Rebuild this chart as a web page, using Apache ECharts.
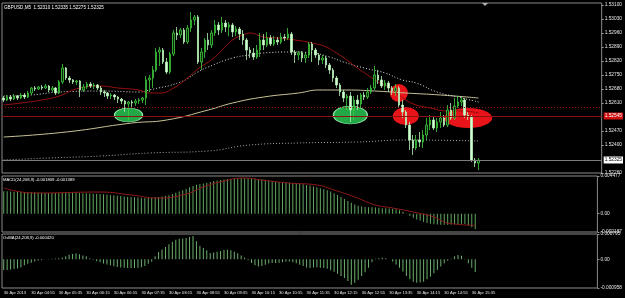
<!DOCTYPE html>
<html lang="en" style="height: 100%">
<head>
  <meta charset="utf-8">
</head>
<body style="height: 100%; margin: 0; background-color:#000;">
  <div id="container" style="height: 100%"></div>

<script src="https://cdn.jsdelivr.net/npm/echarts@6/dist/echarts.min.js"></script>

<script>
  var dom = document.getElementById('container');
  var myChart = echarts.init(dom);

  // GBPUSD M5, 30 Apr 2013, 04:15 .. 15:40
  var opens = [
    1.52635,1.52625,1.52640,1.52630,1.52645,1.52635,1.52650,1.52640,1.52660,1.52685,
    1.52680,1.52690,1.52685,1.52695,1.52675,1.52685,1.52660,1.52715,1.52785,1.52735,
    1.52725,1.52715,1.52720,1.52675,1.52690,1.52705,1.52695,1.52700,1.52685,1.52665,
    1.52660,1.52645,1.52650,1.52640,1.52630,1.52620,1.52605,1.52615,1.52610,1.52620,
    1.52625,1.52635,1.52725,1.52735,1.52775,1.52865,1.52875,1.52815,1.52765,1.52855,
    1.52960,1.52950,1.52975,1.52915,1.52985,1.53025,1.53040,1.52815,1.52865,1.52925,
    1.52900,1.52960,1.53000,1.52975,1.53010,1.52990,1.53000,1.52965,1.52980,1.52955,
    1.52925,1.52875,1.52860,1.52840,1.52875,1.52925,1.52900,1.52935,1.52905,1.52925,
    1.52915,1.52940,1.52935,1.52955,1.52865,1.52850,1.52860,1.52835,1.52850,1.52905,
    1.52875,1.52850,1.52825,1.52835,1.52800,1.52775,1.52735,1.52700,1.52665,1.52635,
    1.52645,1.52575,1.52625,1.52605,1.52650,1.52640,1.52665,1.52685,1.52750,1.52725,
    1.52695,1.52710,1.52685,1.52670,1.52685,1.52600,1.52565,1.52500,1.52425,1.52385,
    1.52425,1.52415,1.52450,1.52500,1.52525,1.52485,1.52515,1.52535,1.52500,1.52575,
    1.52535,1.52595,1.52615,1.52625,1.52550,1.52540,1.52325,1.52310
  ];
  var closes = [
    1.52625,1.52640,1.52630,1.52645,1.52635,1.52650,1.52640,1.52660,1.52685,1.52680,
    1.52690,1.52685,1.52695,1.52675,1.52685,1.52660,1.52715,1.52785,1.52735,1.52725,
    1.52715,1.52720,1.52675,1.52690,1.52705,1.52695,1.52700,1.52685,1.52665,1.52660,
    1.52645,1.52650,1.52640,1.52630,1.52620,1.52605,1.52615,1.52610,1.52620,1.52625,
    1.52635,1.52725,1.52735,1.52775,1.52865,1.52875,1.52815,1.52765,1.52855,1.52960,
    1.52950,1.52975,1.52915,1.52985,1.53025,1.53040,1.52815,1.52865,1.52925,1.52900,
    1.52960,1.53000,1.52975,1.53010,1.52990,1.53000,1.52965,1.52980,1.52955,1.52925,
    1.52875,1.52860,1.52840,1.52875,1.52925,1.52900,1.52935,1.52905,1.52925,1.52915,
    1.52940,1.52935,1.52955,1.52865,1.52850,1.52860,1.52835,1.52850,1.52905,1.52875,
    1.52850,1.52825,1.52835,1.52800,1.52775,1.52735,1.52700,1.52665,1.52635,1.52645,
    1.52575,1.52625,1.52605,1.52650,1.52640,1.52665,1.52685,1.52750,1.52725,1.52695,
    1.52710,1.52685,1.52670,1.52685,1.52600,1.52565,1.52500,1.52425,1.52385,1.52425,
    1.52415,1.52450,1.52500,1.52525,1.52485,1.52515,1.52535,1.52500,1.52575,1.52535,
    1.52595,1.52615,1.52625,1.52550,1.52540,1.52325,1.52310,1.52325
  ];
  var lows = [
    1.52615,1.52620,1.52620,1.52625,1.52625,1.52630,1.52630,1.52635,1.52650,1.52670,
    1.52675,1.52675,1.52680,1.52665,1.52665,1.52650,1.52655,1.52705,1.52725,1.52710,
    1.52705,1.52700,1.52640,1.52665,1.52680,1.52685,1.52680,1.52675,1.52650,1.52640,
    1.52630,1.52630,1.52625,1.52610,1.52605,1.52565,1.52525,1.52590,1.52595,1.52605,
    1.52610,1.52600,1.52665,1.52685,1.52765,1.52795,1.52805,1.52755,1.52755,1.52845,
    1.52925,1.52935,1.52905,1.52905,1.52965,1.53000,1.52805,1.52775,1.52835,1.52875,
    1.52885,1.52945,1.52950,1.52960,1.52965,1.52945,1.52940,1.52945,1.52925,1.52900,
    1.52825,1.52835,1.52825,1.52830,1.52840,1.52875,1.52890,1.52895,1.52895,1.52900,
    1.52905,1.52920,1.52925,1.52850,1.52810,1.52825,1.52815,1.52810,1.52835,1.52815,
    1.52835,1.52800,1.52805,1.52785,1.52755,1.52715,1.52685,1.52645,1.52615,1.52575,
    1.52515,1.52525,1.52575,1.52585,1.52625,1.52630,1.52655,1.52675,1.52705,1.52685,
    1.52675,1.52665,1.52650,1.52645,1.52585,1.52535,1.52485,1.52375,1.52350,1.52375,
    1.52390,1.52385,1.52425,1.52475,1.52475,1.52465,1.52485,1.52490,1.52490,1.52525,
    1.52525,1.52585,1.52595,1.52535,1.52525,1.52315,1.52290,1.52275
  ];
  var highs = [
    1.52645,1.52650,1.52650,1.52655,1.52650,1.52660,1.52660,1.52670,1.52690,1.52695,
    1.52695,1.52700,1.52705,1.52700,1.52695,1.52690,1.52725,1.52805,1.52790,1.52745,
    1.52730,1.52725,1.52725,1.52705,1.52715,1.52715,1.52710,1.52705,1.52695,1.52675,
    1.52665,1.52660,1.52655,1.52645,1.52635,1.52625,1.52620,1.52625,1.52630,1.52635,
    1.52640,1.52745,1.52750,1.52795,1.52885,1.52890,1.52885,1.52835,1.52865,1.52975,
    1.52990,1.52985,1.52985,1.53000,1.53065,1.53050,1.53050,1.52885,1.52935,1.52960,
    1.52975,1.53025,1.53015,1.53040,1.53025,1.53015,1.53010,1.52995,1.52990,1.52975,
    1.52935,1.52890,1.52885,1.52900,1.52960,1.52955,1.52965,1.52950,1.52945,1.52940,
    1.52960,1.52955,1.52985,1.52965,1.52875,1.52870,1.52870,1.52860,1.52915,1.52915,
    1.52885,1.52860,1.52850,1.52845,1.52810,1.52785,1.52745,1.52710,1.52675,1.52655,
    1.52665,1.52645,1.52650,1.52660,1.52665,1.52685,1.52700,1.52795,1.52775,1.52745,
    1.52725,1.52720,1.52695,1.52705,1.52695,1.52625,1.52575,1.52515,1.52450,1.52450,
    1.52465,1.52475,1.52535,1.52550,1.52540,1.52535,1.52565,1.52550,1.52600,1.52610,
    1.52635,1.52645,1.52640,1.52635,1.52565,1.52550,1.52335,1.52335
  ];

  // moving averages, read at sample bars: [bar index, price]
  var maRed = [[0,1.52600],[5,1.52610],[11,1.52625],[16,1.52645],[22,1.52685],[28,1.52695],[33,1.52685],
    [39,1.52675],[42,1.52660],[45,1.52660],[49,1.52685],[53,1.52735],[56,1.52780],[59,1.52815],[61,1.52840],
    [66,1.52925],[69,1.52950],[71,1.52960],[75,1.52940],[79,1.52935],[84,1.52925],[89,1.52910],[93,1.52890],
    [96,1.52860],[99,1.52825],[102,1.52785],[105,1.52750],[108,1.52715],[111,1.52690],[113,1.52665],
    [116,1.52625],[119,1.52600],[123,1.52585],[128,1.52570],[132,1.52570],[137,1.52560]];
  var maWhite = [[0,1.52645],[8,1.52650],[16,1.52665],[28,1.52670],[39,1.52665],[42,1.52675],[51,1.52715],
    [56,1.52765],[59,1.52790],[66,1.52835],[71,1.52850],[75,1.52860],[83,1.52865],[89,1.52860],[94,1.52840],
    [98,1.52815],[104,1.52785],[110,1.52760],[115,1.52725],[119,1.52710],[125,1.52665],[131,1.52640],[137,1.52615]];
  var maTan = [[0,1.52440],[18,1.52465],[37,1.52510],[47,1.52525],[59,1.52575],[66,1.52610],[75,1.52640],
    [85,1.52660],[91,1.52675],[99,1.52675],[107,1.52670],[116,1.52660],[126,1.52650],[137,1.52635]];
  var maGray = [[0,1.52325],[13,1.52335],[28,1.52345],[42,1.52360],[59,1.52370],[71,1.52400],[85,1.52410],
    [102,1.52415],[116,1.52425],[137,1.52420]];

  var levelRed = 1.52545;
  var levelRedDotted = 1.52590;

  // drawn ellipses: [bar index, price]
  var greenMarks = [[36,1.52550],[100,1.52550]];
  var redMarks = [[114,1.52660],[116,1.52545],[134,1.52535]];

  var macd = [
    0.00268,0.00266,0.00264,0.00262,0.00260,0.00258,0.00256,0.00255,0.00255,0.00254,
    0.00252,0.00250,0.00249,0.00247,0.00246,0.00247,0.00250,0.00256,0.00257,0.00256,
    0.00254,0.00252,0.00248,0.00245,0.00243,0.00241,0.00239,0.00237,0.00234,0.00231,
    0.00228,0.00224,0.00220,0.00215,0.00211,0.00206,0.00201,0.00198,0.00195,0.00192,
    0.00189,0.00188,0.00188,0.00190,0.00195,0.00200,0.00205,0.00210,0.00220,0.00235,
    0.00250,0.00265,0.00278,0.00295,0.00315,0.00330,0.00345,0.00352,0.00360,0.00368,
    0.00378,0.00388,0.00396,0.00402,0.00407,0.00412,0.00417,0.00420,0.00423,0.00424,
    0.00423,0.00421,0.00419,0.00417,0.00413,0.00410,0.00405,0.00398,0.00390,0.00383,
    0.00378,0.00374,0.00372,0.00370,0.00366,0.00362,0.00357,0.00350,0.00343,0.00335,
    0.00325,0.00315,0.00304,0.00292,0.00280,0.00265,0.00245,0.00222,0.00198,0.00175,
    0.00152,0.00130,0.00110,0.00095,0.00086,0.00081,0.00078,0.00078,0.00075,0.00070,
    0.00066,0.00064,0.00062,0.00058,0.00052,0.00040,0.00022,0.00002,-0.00025,-0.00048,
    -0.00068,-0.00082,-0.00100,-0.00112,-0.00120,-0.00126,-0.00130,-0.00132,-0.00132,-0.00131,
    -0.00129,-0.00126,-0.00123,-0.00121,-0.00122,-0.00140,-0.00162,-0.00181
  ];
  var macdSignal = [[0,0.00306],[9,0.00246],[28,0.00258],[37,0.00223],[45,0.00187],[53,0.00234],
    [58,0.00318],[64,0.00389],[70,0.00425],[75,0.00401],[83,0.00365],[91,0.00342],[96,0.00282],
    [102,0.00199],[108,0.00104],[113,0.00068],[119,0.00020],[125,-0.00039],[129,-0.00111],[137,-0.00139]];

  var osma = [
    -0.00035,-0.00035,-0.00034,-0.00032,-0.00030,-0.00026,-0.00020,-0.00015,-0.00011,-0.00007,
    -0.00004,-0.00002,0.00000,0.00001,0.00002,0.00003,0.00004,0.00006,0.00010,0.00015,
    0.00018,0.00019,0.00017,0.00013,0.00010,0.00004,-0.00001,-0.00006,-0.00010,-0.00014,
    -0.00017,-0.00020,-0.00023,-0.00025,-0.00027,-0.00028,-0.00029,-0.00029,-0.00029,-0.00028,
    -0.00026,-0.00022,-0.00015,-0.00008,0.00010,0.00024,0.00033,0.00041,0.00050,0.00058,
    0.00065,0.00068,0.00069,0.00071,0.00074,0.00077,0.00060,0.00045,0.00038,0.00030,
    0.00021,0.00023,0.00025,0.00028,0.00031,0.00032,0.00030,0.00025,0.00020,0.00013,
    0.00006,-0.00003,-0.00012,-0.00020,-0.00024,-0.00022,-0.00018,-0.00014,-0.00012,-0.00012,
    -0.00011,-0.00009,-0.00007,-0.00007,-0.00010,-0.00013,-0.00018,-0.00022,-0.00027,-0.00029,
    -0.00027,-0.00026,-0.00028,-0.00029,-0.00031,-0.00036,-0.00041,-0.00048,-0.00055,-0.00062,
    -0.00072,-0.00084,-0.00078,-0.00068,-0.00055,-0.00043,-0.00028,-0.00010,0.00002,0.00004,
    0.00005,0.00004,0.00000,-0.00007,-0.00017,-0.00028,-0.00040,-0.00055,-0.00066,-0.00074,
    -0.00078,-0.00077,-0.00074,-0.00066,-0.00058,-0.00046,-0.00035,-0.00024,-0.00013,-0.00005,
    0.00002,0.00010,0.00014,0.00012,0.00002,-0.00013,-0.00028,-0.00042
  ];

  var timeLabels = ['30 Apr 2013', '30 Apr 04:55', '30 Apr 05:35', '30 Apr 06:15', '30 Apr 06:55',
    '30 Apr 07:35', '30 Apr 08:15', '30 Apr 08:55', '30 Apr 09:35', '30 Apr 10:15', '30 Apr 10:55',
    '30 Apr 11:35', '30 Apr 12:15', '30 Apr 12:55', '30 Apr 13:35', '30 Apr 14:15', '30 Apr 14:55',
    '30 Apr 15:35'];
  var priceTicks = [1.53100, 1.53030, 1.52960, 1.52890, 1.52820, 1.52750, 1.52680, 1.52610, 1.52470, 1.52400, 1.52260];
  var macdTicks = [0.00449, 0, -0.00218];
  var macdTickText = ['0.004477', '0.00', '-0.002187'];
  var osmaTicks = [0.00084, 0, -0.00095];
  var osmaTickText = ['0.000795', '0.00', '-0.000958'];

  var slots = 173; // bars + empty chart shift on the right
  var cats = [];
  for (var i = 0; i < slots; i++) cats.push(i);
  var last = closes.length - 1;

  var FONT = 'Liberation Sans';
  var txt = '#e6e6e6';
  var greenSizes = [[28, 14], [34, 18]];
  var redSizes = [[18, 18], [26, 18], [48, 20]];

  function xAx(idx, showLabels) {
    return {
      type: 'category', gridIndex: idx, data: cats, boundaryGap: true,
      axisLine: { show: false }, axisTick: { show: false }, splitLine: { show: false },
      axisLabel: showLabels ? {
        show: true, color: txt, fontSize: 4.1, fontFamily: FONT, margin: 3, align: 'left',
        interval: function (index) { return index % 8 === 0 && index <= last; },
        formatter: function (v, index) { return timeLabels[index / 8] || ''; }
      } : { show: false }
    };
  }
  function yAx(idx, min, max, ticks, fmt) {
    return {
      type: 'value', gridIndex: idx, position: 'right', min: min, max: max, scale: true,
      splitLine: { show: false }, axisLine: { show: false },
      axisTick: { show: true, length: 2, customValues: ticks, lineStyle: { color: '#9a9a9a' } },
      axisLabel: {
        customValues: ticks, color: txt, fontSize: 4.8, fontFamily: FONT, margin: 3,
        showMinLabel: true, showMaxLabel: true, hideOverlap: false, formatter: fmt
      }
    };
  }
  var gridBase = { left: 2, right: 18, show: true, borderColor: '#8a8a8a', borderWidth: 1, backgroundColor: '#000' };
  var levelLabel = { show: true, position: 'end', distance: 2, fontSize: 4.8, padding: [1, 1] };

  var option = {
    backgroundColor: '#000',
    animation: false,
    textStyle: { fontFamily: FONT },
    title: [
      { text: 'GBPUSD,M5  1.52310 1.52335 1.52275 1.52325', left: 4, top: 5, padding: 0,
        textStyle: { color: '#fff', fontSize: 4.6, fontWeight: 'normal', fontFamily: FONT } },
      { text: 'MACD(24,208,9) -0.001809 -0.001389', left: 3, top: 178, padding: 0,
        textStyle: { color: '#fff', fontSize: 4.2, fontWeight: 'normal', fontFamily: FONT } },
      { text: 'OsMA(24,208,9) -0.000420', left: 3, top: 236, padding: 0,
        textStyle: { color: '#fff', fontSize: 4.2, fontWeight: 'normal', fontFamily: FONT } }
    ],
    grid: [
      Object.assign({ top: 3, height: 170 }, gridBase),
      Object.assign({ top: 176, height: 56 }, gridBase),
      Object.assign({ top: 234, height: 54 }, gridBase)
    ],
    xAxis: [xAx(0, false), xAx(1, false), xAx(2, true)],
    yAxis: [
      yAx(0, 1.52260, 1.53110, priceTicks, function (v) { return v.toFixed(5); }),
      yAx(1, -0.00218, 0.00449, macdTicks, function (v) { return macdTickText[macdTicks.indexOf(v)]; }),
      yAx(2, -0.00095, 0.00084, osmaTicks, function (v) { return osmaTickText[osmaTicks.indexOf(v)]; })
    ],
    graphic: [
      { type: 'polygon', shape: { points: [[482, 3], [488, 3], [485, 6]] }, style: { fill: '#b0b0b0' } }
    ],
    series: [
      {
        type: 'scatter', xAxisIndex: 0, yAxisIndex: 0, z: 1, data: greenMarks, symbol: 'circle',
        symbolSize: function (v, p) { return greenSizes[p.dataIndex]; },
        itemStyle: { color: '#22a846', borderColor: '#8fe8a6', borderWidth: 1, opacity: 1 }
      },
      {
        type: 'scatter', xAxisIndex: 0, yAxisIndex: 0, z: 1, data: redMarks, symbol: 'circle',
        symbolSize: function (v, p) { return redSizes[p.dataIndex]; },
        itemStyle: { color: '#e8141a', opacity: 1 }
      },
      {
        type: 'line', xAxisIndex: 0, yAxisIndex: 0, z: 2, data: maGray, smooth: true, symbol: 'none',
        lineStyle: { color: '#a8a8a8', width: 1, type: [1, 2] },
        markLine: {
          silent: true, symbol: 'none', animation: false, precision: 5,
          data: [
            { yAxis: levelRedDotted, lineStyle: { color: '#9a1414', type: [1, 2], width: 1 }, label: { show: false } },
            { yAxis: levelRed, lineStyle: { color: '#8e1212', type: 'solid', width: 1 },
              label: Object.assign({ formatter: levelRed.toFixed(5), backgroundColor: '#d01010', color: '#fff' }, levelLabel) },
            { yAxis: closes[last], lineStyle: { color: '#7c7c7c', type: 'solid', width: 1 },
              label: Object.assign({ formatter: closes[last].toFixed(5), backgroundColor: '#ffffff', color: '#000' }, levelLabel) }
          ]
        }
      },
      {
        type: 'line', xAxisIndex: 0, yAxisIndex: 0, z: 2, data: maTan, smooth: true, symbol: 'none',
        lineStyle: { color: '#c8c497', width: 1 }
      },
      {
        type: 'line', xAxisIndex: 0, yAxisIndex: 0, z: 2, data: maWhite, smooth: true, symbol: 'none',
        lineStyle: { color: '#e0e0e0', width: 1, type: [1, 2] }
      },
      {
        type: 'line', xAxisIndex: 0, yAxisIndex: 0, z: 2, data: maRed, smooth: true, symbol: 'none',
        lineStyle: { color: '#9a1010', width: 1 }
      },
      {
        type: 'candlestick', xAxisIndex: 0, yAxisIndex: 0, z: 3, barWidth: 2,
        data: opens.map(function (o, i) { return [o, closes[i], lows[i], highs[i]]; }),
        itemStyle: {
          color: '#0a2a0a', borderColor: '#3fcf3f',
          color0: '#d6ffd6', borderColor0: '#b4f0b4', borderWidth: 0.8
        }
      },
      {
        type: 'bar', xAxisIndex: 1, yAxisIndex: 1, data: macd, barWidth: 1,
        itemStyle: { color: '#62a862' }
      },
      {
        type: 'line', xAxisIndex: 1, yAxisIndex: 1, data: macdSignal, smooth: true, symbol: 'none', z: 3,
        lineStyle: { color: '#8e1a1a', width: 1 }
      },
      {
        type: 'bar', xAxisIndex: 2, yAxisIndex: 2, data: osma, barWidth: 1,
        itemStyle: { color: '#6cb06c' }
      }
    ]
  };

  myChart.setOption(option);
  window.addEventListener('resize', myChart.resize);
</script>

</body>
</html>
